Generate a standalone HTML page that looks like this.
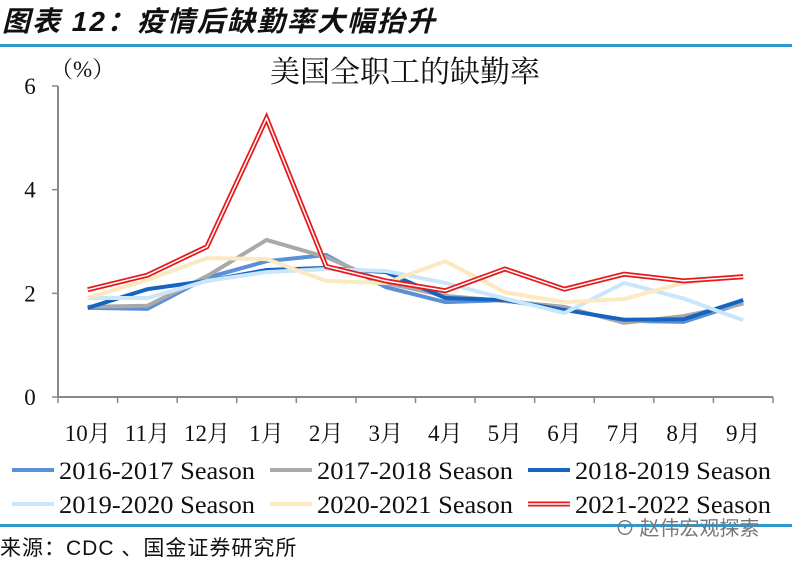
<!DOCTYPE html>
<html><head><meta charset="utf-8"><style>
body{margin:0;background:#fff;width:792px;height:561px;overflow:hidden;position:relative;font-family:"Liberation Serif","Noto Serif CJK SC",serif}
#title{position:absolute;left:2px;top:0px;font:italic bold 28px "Liberation Sans","Noto Sans CJK SC",sans-serif;color:#111;letter-spacing:2px}
.rule{position:absolute;left:0;width:792px;height:3px;background:#2d9bd2}
#src{position:absolute;left:0;top:532px;font:21px "Liberation Sans","Noto Sans CJK SC",sans-serif;color:#111;letter-spacing:1px}
#wm{position:absolute;left:615px;top:512px;font:20px "Noto Sans CJK SC",sans-serif;color:#777}
</style></head><body>
<div id="title">图表 12：疫情后缺勤率大幅抬升</div>
<div class="rule" style="top:44px"></div>
<div class="rule" style="top:524px"></div>
<div id="src">来源：CDC 、国金证券研究所</div>
<div id="wm">⊙ 赵伟宏观探索</div>
<svg id="chart" width="792" height="561" style="position:absolute;left:0;top:0"></svg>
<script>
const months=["10月","11月","12月","1月","2月","3月","4月","5月","6月","7月","8月","9月"];
const yTicks=[0,2,4,6];
const seriesNames=["2016-2017 Season","2017-2018 Season","2018-2019 Season","2019-2020 Season","2020-2021 Season","2021-2022 Season"];
const s1617=[1.72,1.70,2.30,2.62,2.74,2.12,1.83,1.87,1.70,1.47,1.45,1.82];
const s1718=[1.74,1.76,2.33,3.03,2.70,2.20,1.95,1.85,1.74,1.43,1.56,1.80];
const s1819=[1.72,2.08,2.24,2.45,2.49,2.41,1.91,1.87,1.68,1.49,1.50,1.87];
const s1920=[1.91,1.91,2.24,2.41,2.47,2.43,2.20,1.90,1.62,2.20,1.90,1.48];
const s2021=[1.91,2.26,2.68,2.66,2.24,2.20,2.62,2.02,1.83,1.89,2.20,2.35];
const s2122=[2.07,2.35,2.90,5.38,2.52,2.24,2.05,2.47,2.08,2.37,2.24,2.32];
const allSeries=[s1617,s1718,s1819,s1920,s2021,s2122];
const colors=["#5b8fd6","#a9a9a9","#1565c0","#c9e6fb","#fbe9c0","#e41a1c"];
const svg=document.getElementById('chart');const NS="http://www.w3.org/2000/svg";
function el(t,a,p){const e=document.createElementNS(NS,t);for(const k in a)e.setAttribute(k,a[k]);(p||svg).appendChild(e);return e;}
const x0=58,x1=773,yb=397,yt=86;
const xs=i=>x0+(x1-x0)*(i+0.5)/months.length;
const ys=v=>yb-(yb-yt)*v/6;
const axis=el('g',{});


el('line',{x1:x0,y1:yt,x2:x0,y2:yb,stroke:'#888','stroke-width':2},axis);
el('line',{x1:x0,y1:yb,x2:x1,y2:yb,stroke:'#888','stroke-width':2},axis);
yTicks.forEach(v=>{el('line',{x1:x0-6,y1:ys(v),x2:x0,y2:ys(v),stroke:'#888','stroke-width':1.5},axis);
const t=el('text',{x:x0-28,y:ys(v)+8,'font-size':23,'text-anchor':'middle',fill:'#111'},axis);t.textContent=v;

});
months.forEach((m,i)=>{el('line',{x1:x0+(x1-x0)*i/12,y1:yb,x2:x0+(x1-x0)*i/12,y2:yb+6,stroke:'#888','stroke-width':1.5},axis);
const t=el('text',{x:xs(i),y:441,'font-size':23,'text-anchor':'middle',fill:'#111'},axis);t.textContent=m;

});
el('line',{x1:x1,y1:yb,x2:x1,y2:yb+6,stroke:'#888','stroke-width':1.5},axis);
let t=el('text',{x:50,y:77,'font-size':23,fill:'#111'});t.textContent="（%）";


t=el('text',{x:405,y:82,'font-size':30,'text-anchor':'middle',fill:'#111'});t.textContent="美国全职工的缺勤率";


allSeries.forEach((s,k)=>{const pts=s.map((v,i)=>xs(i)+','+ys(v)).join(' ');
const p=el('polyline',{points:pts,fill:'none',stroke:colors[k],'stroke-width':k==5?5:4,'stroke-linejoin':'miter'});


if(k==5){const w=el('polyline',{points:pts,fill:'none',stroke:'#fff','stroke-width':1.5});

}});
seriesNames.forEach((n,k)=>{const col=k%3,row=Math.floor(k/3);const lx=12+col*258,ly=470+row*34;
const g=el('g',{});


el('line',{x1:lx,y1:ly,x2:lx+42,y2:ly,stroke:colors[k],'stroke-width':k==5?5:4},g);
if(k==5)el('line',{x1:lx,y1:ly,x2:lx+42,y2:ly,stroke:'#fff','stroke-width':1.5},g);
const tt=el('text',{x:lx+47,y:ly+9,'font-size':25,fill:'#111',textLength:196,lengthAdjust:'spacingAndGlyphs'},g);tt.textContent=n;});
</script>
</body></html>
